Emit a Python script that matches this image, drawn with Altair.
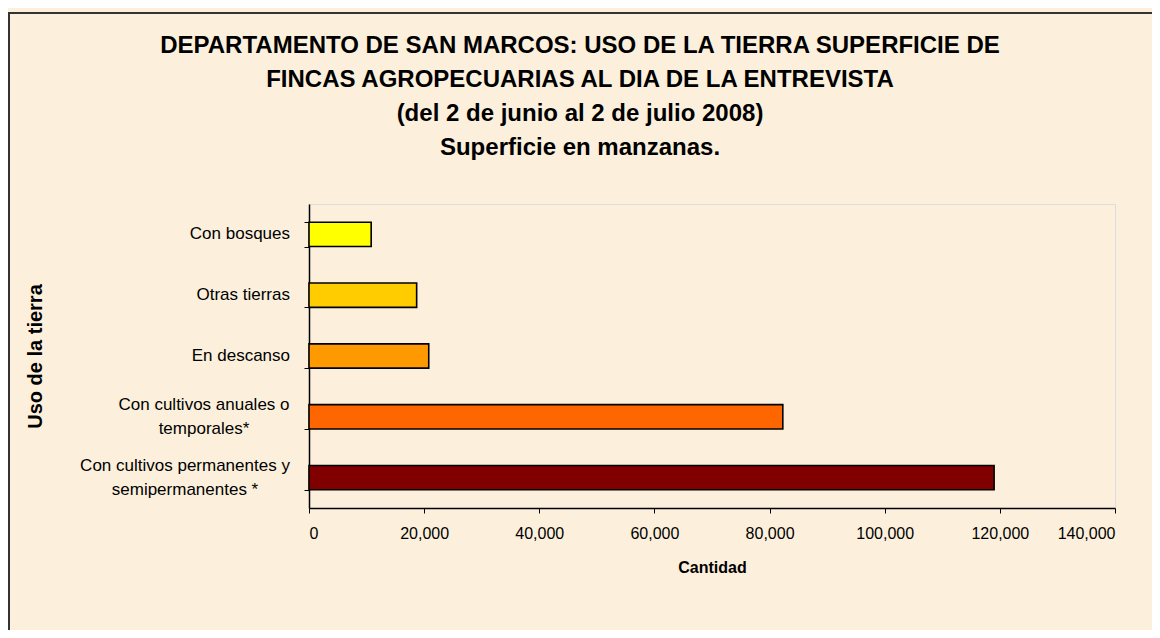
import altair as alt
import pandas as pd

categories = [
    "Con bosques",
    "Otras tierras",
    "En descanso",
    "Con cultivos anuales o|temporales*",
    "Con cultivos permanentes y|semipermanentes *",
]
values = [10800, 18700, 20800, 82300, 119000]
colors = ["#FFFF00", "#FFCC00", "#FF9900", "#FF6600", "#800000"]
x_ticks = [0, 20000, 40000, 60000, 80000, 100000, 120000, 140000]
title_lines = [
    "DEPARTAMENTO DE SAN MARCOS: USO DE LA TIERRA SUPERFICIE DE",
    "FINCAS AGROPECUARIAS AL DIA DE LA ENTREVISTA",
    "(del 2 de junio al 2 de julio 2008)",
    "Superficie en manzanas.",
]

df = pd.DataFrame({"uso": categories, "cantidad": values})
FONT = "Liberation Sans"
one = pd.DataFrame({"k": [0]})

top_border = alt.Chart(one).mark_rule(color="#333333", strokeWidth=2).encode(
    x=alt.value(-301), x2=alt.value(900), y=alt.value(-191)
)
left_border = alt.Chart(one).mark_rule(color="#333333", strokeWidth=2).encode(
    x=alt.value(-300), y=alt.value(-191), y2=alt.value(500)
)

title = alt.Chart(one).mark_text(
    text=title_lines, fontSize=24, fontWeight="bold", font=FONT, color="black",
    lineHeight=34, align="center", baseline="middle",
).encode(x=alt.value(271), y=alt.value(-158))

bars = alt.Chart(df).mark_bar(stroke="black", strokeWidth=1.6).encode(
    x=alt.X(
        "cantidad:Q",
        scale=alt.Scale(domain=[0, 140000], nice=False),
        axis=alt.Axis(
            values=x_ticks, format=",.0f", title="Cantidad", grid=False,
            tickSize=5, tickColor="black", domainColor="black", domainWidth=1.5,
            labelFontSize=16, labelPadding=12, labelColor="black",
            titleFontSize=16, titleFontWeight="bold", titlePadding=18,
            titleColor="black",
        ),
    ),
    y=alt.Y(
        "uso:N",
        sort=None,
        scale=alt.Scale(domain=categories, paddingInner=0.6, paddingOuter=0.3),
        axis=alt.Axis(
            title="Uso de la tierra", tickBand="extent", tickSize=5,
            tickColor="black", domainColor="black", domainWidth=1.5,
            labels=False,
            titleFontSize=20, titleFontWeight="bold", titleColor="black",
            titlePadding=258,
        ),
    ),
    color=alt.Color(
        "uso:N", sort=None,
        scale=alt.Scale(domain=categories, range=colors), legend=None,
    ),
)

label_style = dict(fontSize=17, font=FONT, color="black", baseline="middle", lineHeight=24)

single_labels = alt.Chart(df).transform_filter(
    "indexof(datum.uso, '|') < 0"
).mark_text(align="right", **label_style).encode(
    y=alt.Y("uso:N", sort=None), x=alt.value(-19), text="uso:N"
)

anuales_label = alt.Chart(df).transform_filter(
    "indexof(datum.uso, 'anuales') >= 0"
).transform_calculate(
    lines="split(datum.uso, '|')"
).mark_text(align="center", dy=-12, **label_style).encode(
    y=alt.Y("uso:N", sort=None), x=alt.value(-105), text="lines:N"
)

perm_label = alt.Chart(df).transform_filter(
    "indexof(datum.uso, 'permanentes') >= 0"
).transform_calculate(
    lines="split(datum.uso, '|')"
).mark_text(align="center", dy=-12, **label_style).encode(
    y=alt.Y("uso:N", sort=None), x=alt.value(-124), text="lines:N"
)

chart = alt.layer(
    bars, single_labels, anuales_label, perm_label, top_border, left_border, title
).properties(
    width=806,
    height=304,
    background="#FCF0DC",
    padding={"left": 301, "top": 196, "right": 37, "bottom": 122},
    autosize=alt.AutoSizeParams(type="none"),
).configure_view(
    fill="#FFFFCC", stroke="#808080", strokeWidth=2
).configure(font=FONT)

chart.save("out.html", embed_options={"renderer": "svg", "actions": False})
